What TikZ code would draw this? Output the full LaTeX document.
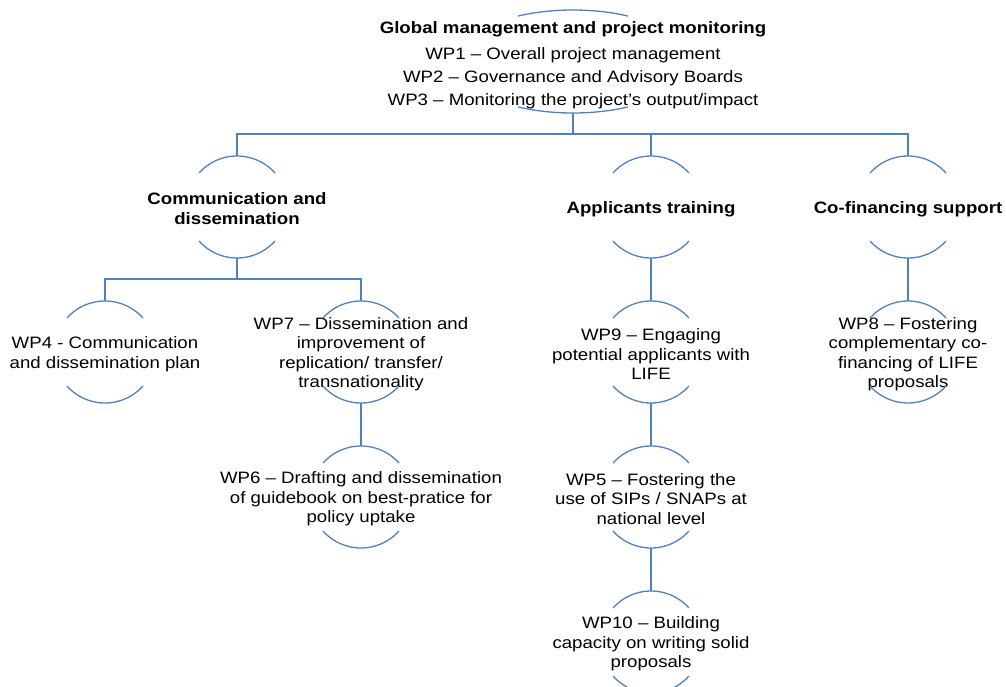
\documentclass[tikz,border=0pt]{standalone}
\usepackage{fontspec}
\setmainfont{Liberation Sans}[FakeStretch=1.13]
\definecolor{linecol}{HTML}{4F81BD}
\newcommand{\dn}{\rule{0pt}{16pt}}
\begin{document}
\begin{tikzpicture}[x=1pt,y=-1pt,
  font=\fontsize{16.5}{19.5}\selectfont,
  wp/.style={rectangle, inner sep=0pt, outer sep=0pt, minimum height=102pt, align=center},
  head/.style={wp, font=\bfseries\fontsize{16.5}{20}\selectfont},
  conn/.style={draw=linecol, line width=1.3pt},
  arcline/.style={draw=linecol, line width=1.3pt}]
\useasboundingbox (0,0) rectangle (1006,686);
\clip (0,0) rectangle (1006,686);
% nodes
\node[wp, minimum height=103pt, font=\fontsize{16.5}{23}\selectfont] (top) at (573,61.5)
  {\rule{0pt}{19pt}\textbf{Global management and project monitoring}\\[3pt]
   WP1 – Overall project management\\
   WP2 – Governance and Advisory Boards\\
   WP3 – Monitoring the project’s output/impact};
\node[head] (comm) at (237,207) {\dn Communication and\\dissemination};
\node[head] (app) at (651,207) {\dn Applicants training};
\node[head] (cof) at (908,207) {\dn Co-financing support};
\node[wp] (wp4) at (105,352) {\dn WP4 - Communication\\and dissemination plan};
\node[wp] (wp7) at (361,352) {\dn WP7 – Dissemination and\\improvement of\\replication/ transfer/\\transnationality};
\node[wp] (wp6) at (361,497) {\dn WP6 – Drafting and dissemination\\of guidebook on best-pratice for\\policy uptake};
\node[wp] (wp9) at (651,352) {\dn WP9 – Engaging\\potential applicants with\\LIFE};
\node[wp] (wp5) at (651,497) {\dn WP5 – Fostering the\\use of SIPs / SNAPs at\\national level};
\node[wp] (wp10) at (651,642) {\dn WP10 – Building\\capacity on writing solid\\proposals};
\node[wp] (wp8) at (908,352) {\dn WP8 – Fostering\\complementary co-\\financing of LIFE\\proposals};
% arcs
\draw[arcline] (top.center) ++(62:117pt and 51.5pt) arc[start angle=62, end angle=118, x radius=117pt, y radius=51.5pt];
\draw[arcline] (top.center) ++(242:117pt and 51.5pt) arc[start angle=242, end angle=298, x radius=117pt, y radius=51.5pt];
\foreach \n in {comm,app,cof,wp4,wp7,wp6,wp9,wp5,wp10,wp8}{
  \draw[arcline] (\n.center) ++(42:51pt) arc[start angle=42, end angle=138, radius=51pt];
  \draw[arcline] (\n.center) ++(222:51pt) arc[start angle=222, end angle=318, radius=51pt];
}
% connectors
\coordinate (bus) at (0,134);
\coordinate (bus2) at (0,279);
\draw[conn] (top.south) -- (top.south |- bus);
\draw[conn] (comm.north) |- (bus -| cof.north) -- (cof.north);
\draw[conn] (app.north) -- (app.north |- bus);
\draw[conn] (comm.south) -- (comm.south |- bus2);
\draw[conn] (wp4.north) |- (bus2 -| wp7.north) -- (wp7.north);
\draw[conn] (wp7.south) -- (wp6.north);
\draw[conn] (app.south) -- (wp9.north);
\draw[conn] (wp9.south) -- (wp5.north);
\draw[conn] (wp5.south) -- (wp10.north);
\draw[conn] (cof.south) -- (wp8.north);
\end{tikzpicture}
\end{document}
